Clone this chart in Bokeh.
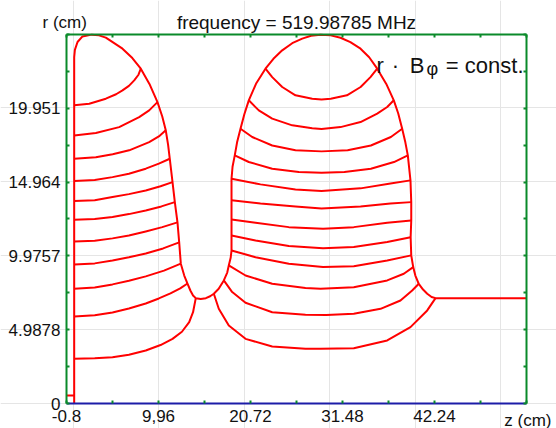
from bokeh.plotting import figure
from bokeh.models import Range1d, LinearAxis, FixedTicker, Label, CustomJSTickFormatter
from bokeh.embed import file_html
from bokeh.resources import INLINE

FONT = "Liberation Sans"
RED = "#ff0000"
GREEN = "#0a8a2a"
BLUE = "#1c1ca8"
INK = "#111111"

title_text = "frequency = 519.98785 MHz"

x_major = [-0.8, 9.96, 20.72, 31.48, 42.24]
x_minor = [4.58, 15.34, 26.10, 36.86, 47.62, 53.0]
x_labels = ["-0.8", "9,96", "20.72", "31.48", "42.24"]
y_major = [0.0, 4.9878, 9.9757, 14.964, 19.951]
y_minor = [2.4939, 7.4817, 12.4696, 17.4574, 22.4453, 24.939]
y_labels = ["0", "4.9878", "9.9757", "14.964", "19.951"]

# cavity outline (z, r in cm)
outline_z = [0.10, 0.10, 0.18, 0.49, 1.07, 2.16, 3.00, 3.80, 5.75, 6.90, 7.89, 8.90, 9.84,
             10.40, 10.81, 11.08, 11.28, 11.60, 11.87, 12.18, 12.38, 12.57, 12.97, 13.35,
             13.70, 14.00, 14.32, 14.90, 15.50, 16.00, 16.43, 17.00, 17.60, 18.00, 18.18,
             18.40, 18.50, 18.50, 18.50, 18.50, 18.50, 18.62, 18.88, 19.15, 19.55, 20.00,
             20.52, 21.40, 22.47, 23.40, 24.43, 25.60, 26.77, 27.80, 28.91, 30.10, 31.25,
             32.40, 33.59, 34.60, 35.54, 36.60, 37.48, 38.00, 38.46, 38.83, 39.12, 39.43,
             39.52, 39.52, 39.45, 39.52, 39.75, 40.00, 40.40, 40.90, 41.39, 41.90, 42.36, 53.0]
outline_r = [0.0, 23.41, 23.90, 24.43, 24.81, 24.93, 24.88, 24.73, 23.98, 23.35, 22.63, 21.60, 20.37,
             19.40, 18.46, 17.50, 16.54, 14.96, 13.61, 12.24, 10.89, 9.45, 8.65, 8.11,
             7.62, 7.30, 7.12, 7.06, 7.12, 7.25, 7.42, 7.75, 8.32, 8.85, 9.33,
             9.85, 10.34, 11.36, 12.44, 13.73, 15.19, 16.00, 16.77, 17.65, 18.57, 19.55,
             20.49, 21.65, 22.63, 23.30, 23.87, 24.35, 24.66, 24.85, 24.93, 24.88, 24.72,
             24.42, 23.98, 23.40, 22.63, 21.60, 20.49, 19.60, 18.57, 17.65, 16.77, 15.08,
             13.61, 12.37, 11.24, 10.01, 9.22, 8.65, 8.09, 7.70, 7.42, 7.20, 7.12, 7.12]

stub_z = [-0.8, 0.10]
stub_r = [0.54, 0.54]

# field lines r*B_phi = const, first cell
cell1_z = [
    [0.10, 1.86, 3.80, 5.00, 5.75, 6.50, 7.12, 7.62, 7.89],
    [0.10, 2.63, 5.36, 7.70, 8.87, 9.84],
    [0.10, 2.63, 4.60, 6.53, 8.87, 10.00, 10.81],
    [0.10, 2.50, 4.58, 6.50, 8.47, 10.00, 11.28],
    [0.10, 2.50, 4.58, 6.50, 8.47, 10.20, 11.60],
    [0.10, 2.50, 4.58, 6.50, 8.47, 10.30, 11.87],
    [0.10, 2.50, 4.58, 6.50, 8.47, 10.40, 12.18],
    [0.10, 2.50, 4.58, 6.50, 8.47, 10.50, 12.38],
    [0.10, 2.50, 4.58, 6.50, 8.47, 10.60, 12.57],
    [0.10, 2.50, 4.58, 6.50, 8.47, 10.00, 11.36, 12.50, 13.35],
    [0.10, 2.50, 4.58, 6.50, 8.47, 10.20, 11.60, 12.70, 13.55, 14.00, 14.32],
]
cell1_r = [
    [20.15, 20.26, 20.60, 20.90, 21.16, 21.47, 21.84, 22.22, 22.63],
    [18.12, 18.28, 18.68, 19.36, 19.81, 20.37],
    [16.54, 16.65, 16.85, 17.11, 17.67, 18.05, 18.46],
    [15.03, 15.10, 15.30, 15.53, 15.87, 16.21, 16.54],
    [13.68, 13.74, 13.95, 14.15, 14.40, 14.68, 14.96],
    [12.42, 12.47, 12.61, 12.80, 13.05, 13.32, 13.61],
    [10.95, 11.00, 11.16, 11.36, 11.63, 11.92, 12.24],
    [9.40, 9.47, 9.67, 9.88, 10.14, 10.48, 10.89],
    [7.76, 7.84, 8.05, 8.29, 8.59, 8.98, 9.45],
    [5.88, 5.96, 6.15, 6.42, 6.76, 7.10, 7.44, 7.78, 8.11],
    [3.02, 3.06, 3.13, 3.30, 3.58, 3.95, 4.37, 4.85, 5.50, 6.17, 7.12],
]

# field lines, second cell
cell2_z = [
    [22.47, 23.26, 24.43, 25.98, 27.94, 29.03, 30.10, 32.00, 33.60, 34.75, 35.54],
    [20.52, 21.69, 23.26, 25.60, 27.94, 29.03, 31.25, 33.59, 35.54, 36.71, 37.48],
    [19.55, 20.92, 23.26, 25.98, 29.03, 32.08, 34.80, 37.14, 38.46],
    [18.88, 20.52, 23.26, 26.37, 29.03, 31.70, 34.80, 37.50, 39.12],
    [18.50, 21.89, 25.98, 29.03, 33.59, 37.09, 39.43],
    [18.50, 21.89, 25.98, 29.03, 33.59, 37.09, 39.52],
    [18.50, 21.31, 25.20, 29.20, 32.80, 36.71, 39.52],
    [18.50, 21.31, 25.20, 29.20, 32.80, 36.71, 39.45],
    [18.50, 21.31, 25.20, 29.20, 32.80, 36.71, 39.52],
    [18.18, 20.14, 23.26, 27.15, 28.91, 32.80, 36.71, 38.65, 39.75],
    [17.60, 18.58, 20.14, 23.26, 27.15, 29.60, 32.80, 35.93, 38.26, 39.63, 40.40],
    [16.43, 17.01, 18.18, 20.14, 23.26, 27.15, 28.91, 32.80, 36.71, 39.43, 41.39, 42.36],
]
cell2_r = [
    [22.63, 22.06, 21.39, 20.83, 20.60, 20.55, 20.60, 20.83, 21.39, 22.06, 22.63],
    [20.49, 19.81, 19.25, 18.80, 18.61, 18.56, 18.68, 19.02, 19.59, 20.04, 20.49],
    [18.57, 18.01, 17.44, 17.11, 17.04, 17.11, 17.44, 18.01, 18.57],
    [16.77, 16.32, 15.87, 15.64, 15.60, 15.64, 15.87, 16.32, 16.77],
    [15.19, 14.81, 14.47, 14.37, 14.54, 14.87, 15.08],
    [13.73, 13.52, 13.32, 13.18, 13.32, 13.52, 13.61],
    [12.44, 12.22, 11.92, 11.81, 11.92, 12.22, 12.37],
    [11.36, 11.02, 10.64, 10.50, 10.57, 10.91, 11.24],
    [10.34, 9.89, 9.45, 9.22, 9.28, 9.67, 10.01],
    [9.33, 8.65, 8.09, 7.80, 7.76, 7.86, 8.32, 8.77, 9.22],
    [8.32, 7.53, 6.81, 6.17, 6.00, 5.98, 6.06, 6.40, 6.96, 7.64, 8.09],
    [7.42, 6.40, 5.27, 4.37, 3.85, 3.70, 3.70, 3.74, 4.26, 5.16, 6.29, 7.12],
]

# ---- layout: the data box occupies pixels 66..526 (x) and 34..403 (y) of a 556x428 canvas
W, H = 556, 428
BOX_L, BOX_R, BOX_T, BOX_B = 66, 526, 34, 403
x_lo, x_hi = x_major[0], x_minor[-1]
y_lo, y_hi = y_major[0], y_minor[-1]
sx = (BOX_R - BOX_L) / (x_hi - x_lo)
sy = (BOX_B - BOX_T) / (y_hi - y_lo)
xr = Range1d(x_lo - BOX_L / sx, x_hi + (W - BOX_R) / sx)
yr = Range1d(y_lo - (H - BOX_B) / sy, y_hi + BOX_T / sy)

p = figure(frame_width=W, frame_height=H, x_range=xr, y_range=yr,
           output_backend="svg", toolbar_location=None,
           x_axis_location=None, y_axis_location=None,
           min_border=0)
p.outline_line_color = None
p.background_fill_color = "white"
p.border_fill_color = "white"


def make_axis(ticks, minor, labels, line_color, show_labels, loc, bounds, standoff=6):
    ax = LinearAxis(ticker=FixedTicker(ticks=ticks, minor_ticks=minor),
                    fixed_location=loc, bounds=bounds)
    ax.axis_line_color = line_color
    ax.axis_line_width = 2
    ax.major_tick_line_color = GREEN
    ax.major_tick_line_width = 2
    ax.major_tick_in = 3
    ax.major_tick_out = 0
    ax.minor_tick_line_color = GREEN
    ax.minor_tick_line_width = 2
    ax.minor_tick_in = 3
    ax.minor_tick_out = 0
    if show_labels:
        ax.major_label_overrides = dict(zip(ticks, labels))
        ax.major_label_text_font = FONT
        ax.major_label_text_font_size = "17px"
        ax.major_label_text_color = INK
        ax.major_label_standoff = standoff
    else:
        ax.formatter = CustomJSTickFormatter(code="return ''")
        ax.major_label_standoff = 0
    return ax


p.line(outline_z, outline_r, line_color=RED, line_width=2, line_join="round")
p.line(stub_z, stub_r, line_color=RED, line_width=2)
p.multi_line(cell1_z, cell1_r, line_color=RED, line_width=2, line_join="round")
p.multi_line(cell2_z, cell2_r, line_color=RED, line_width=2, line_join="round")

p.add_layout(make_axis(y_major, y_minor, y_labels, GREEN, True, x_lo, (y_lo, y_hi), 6), "left")
p.add_layout(make_axis(x_major, x_minor, x_labels, BLUE, True, y_lo, (x_lo, x_hi), 6), "below")
p.add_layout(make_axis(y_major, y_minor, y_labels, GREEN, False, x_hi, (y_lo, y_hi)), "right")
p.add_layout(make_axis(x_major, x_minor, x_labels, GREEN, False, y_hi, (x_lo, x_hi)), "above")

x_mid = (x_lo + x_hi) / 2


def add_text(x, y, dx, dy, text, align, size):
    p.add_layout(Label(x=x, y=y, x_offset=dx, y_offset=dy, text=text, text_align=align,
                       text_baseline="alphabetic", text_font=FONT, text_font_size=size,
                       text_color=INK))


add_text(x_mid, y_hi, 0, 12, title_text, "center", "19px")
add_text(x_lo, y_hi, -24, 12, "r (cm)", "left", "17px")
add_text(x_hi, y_lo, 25, -17, "z (cm)", "right", "17px")
add_text(x_hi, y_hi, -3, -31, "= const.", "right", "22px")
add_text(x_hi, y_hi, -100, -34, "\u03c6", "left", "18px")
add_text(x_hi, y_hi, -102, -31, "B", "right", "22px")
add_text(x_hi, y_hi, -131, -31, "\u00b7", "center", "22px")
add_text(x_hi, y_hi, -150, -31, "r", "left", "22px")

open("out.html", "w").write(file_html(p, INLINE))
